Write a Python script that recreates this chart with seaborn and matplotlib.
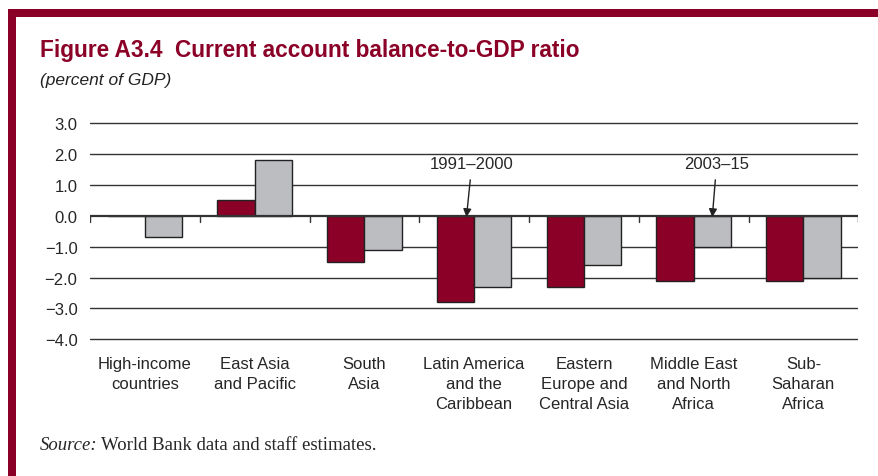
import pandas as pd
import matplotlib.pyplot as plt
import seaborn as sns

regions = ["High-income\ncountries", "East Asia\nand Pacific", "South\nAsia",
           "Latin America\nand the\nCaribbean", "Eastern\nEurope and\nCentral Asia",
           "Middle East\nand North\nAfrica", "Sub-\nSaharan\nAfrica"]
periods = ["1991–2000", "2003–15"]
ratio_1991_2000 = [0.0, 0.5, -1.5, -2.8, -2.3, -2.1, -2.1]
ratio_2003_15 = [-0.7, 1.8, -1.1, -2.3, -1.6, -1.0, -2.0]
y_ticks = [3, 2, 1, 0, -1, -2, -3, -4]

RED = "#8b0026"
GRAY = "#bcbdc0"

df = pd.DataFrame({
    "Region": regions * 2,
    "Period": [periods[0]] * len(regions) + [periods[1]] * len(regions),
    "Ratio": ratio_1991_2000 + ratio_2003_15,
})

sns.set_style("white")
plt.rcParams['font.family'] = ['Liberation Sans', 'DejaVu Sans']

fig = plt.figure(figsize=(8.79, 4.77), dpi=100)
ax = fig.add_axes([0.1024, 0.283, 0.874, 0.461])

# horizontal rules behind the bars
for t in y_ticks:
    ax.axhline(t, color="#333333", lw=1.6 if t == 0 else 1.0, zorder=0 if t != 0 else 3)

sns.barplot(data=df, x="Region", y="Ratio", hue="Period", order=regions,
            hue_order=periods, palette=[RED, GRAY], width=0.68, saturation=1,
            edgecolor="#222222", linewidth=1.0, legend=False, ax=ax, zorder=2)

ax.set_xlim(-0.5, len(regions) - 0.5)
ax.set_ylim(-4.05, 3.05)
ax.set_yticks(y_ticks)
ax.set_yticklabels([f"{t:.1f}".replace("-", "\u2212") for t in y_ticks], fontsize=12)
ax.tick_params(axis="y", length=0, pad=9)
ax.tick_params(axis="x", length=0, pad=11, labelsize=12)
for lbl in ax.get_xticklabels():
    lbl.set_linespacing(1.4)
ax.set_xlabel("")
ax.set_ylabel("")
for s in ax.spines.values():
    s.set_visible(False)

# group separators hanging from zero line
for b in [i - 0.5 for i in range(len(regions) + 1)]:
    ax.plot([b, b], [0, -0.22], color="#333333", lw=1.0, zorder=3)

ax.annotate("1991–2000", xy=(2.93, -0.05), xytext=(2.98, 1.68), ha="center", va="center",
            fontsize=12, arrowprops=dict(arrowstyle="-|>", color="#222222", lw=1.0,
                                         mutation_scale=12, shrinkA=4, shrinkB=0))
ax.annotate("2003–15", xy=(5.17, -0.05), xytext=(5.21, 1.68), ha="center", va="center",
            fontsize=12, arrowprops=dict(arrowstyle="-|>", color="#222222", lw=1.0,
                                         mutation_scale=12, shrinkA=4, shrinkB=0))

# titles and source
fig.text(40 / 879, 1 - 50 / 477, "Figure A3.4  Current account balance-to-GDP ratio",
         color=RED, fontsize=16.3, fontweight="bold", va="center")
fig.text(40 / 879, 1 - 81 / 477, "(percent of GDP)", fontsize=12.5, style="italic",
         color="#222222", va="center")
fig.text(40 / 879, 1 - 446 / 477, "Source:", fontsize=13.5, style="italic",
         family="Liberation Serif", va="center")
fig.text(101 / 879, 1 - 446 / 477, "World Bank data and staff estimates.", fontsize=13.5,
         family="Liberation Serif", va="center")

# frame
fig.add_artist(plt.Rectangle((8 / 879, 1 - 18 / 477), 1 - 8 / 879, 8 / 477,
                             transform=fig.transFigure, color=RED, lw=0))
fig.add_artist(plt.Rectangle((8 / 879, 0), 8 / 879, 1 - 10 / 477,
                             transform=fig.transFigure, color=RED, lw=0))

fig.savefig("out.png", dpi=100)
